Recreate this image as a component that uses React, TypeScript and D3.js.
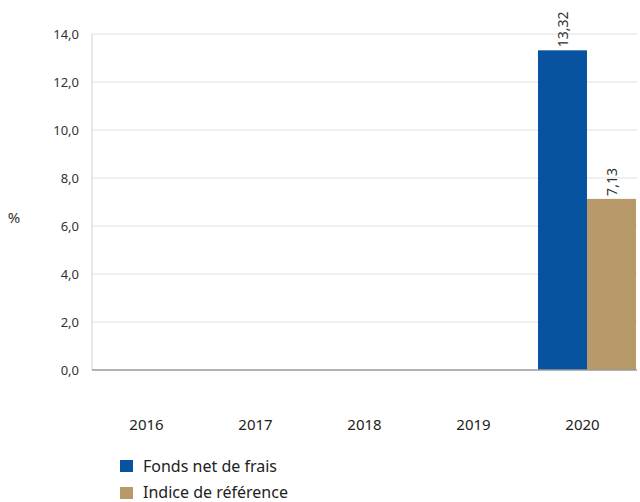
import React from "react";
import * as d3 from "d3";

const categories = ["2016", "2017", "2018", "2019", "2020"];
const fondsValues: (number | null)[] = [null, null, null, null, 13.32];
const indiceValues: (number | null)[] = [null, null, null, null, 7.13];
const seriesNames = ["Fonds net de frais", "Indice de référence"];
const seriesColors = ["#07539f", "#b8996a"];
const yTicks = [0, 2, 4, 6, 8, 10, 12, 14];

const fmt = (v: number, d: number) => v.toFixed(d).replace(".", ",");

export default function App() {
  const W = 640, H = 502;
  const left = 92, right = 637, top = 34, bottom = 370;
  const font = "'Noto Sans', sans-serif";
  const x = d3.scaleBand<string>().domain(categories).range([left, right]).paddingInner(0).paddingOuter(0);
  const y = d3.scaleLinear().domain([0, 14]).range([bottom, top]);
  const inner = d3.scaleBand<number>().domain([0, 1]).range([10, x.bandwidth() - 1]).padding(0);
  const series = [fondsValues, indiceValues];

  return (
    <svg width={W} height={H} style={{ position: "absolute", left: 0, top: 0 }} fontFamily={font}>
      {yTicks.map((t) => (
        <g key={t}>
          {t > 0 && <line x1={left} x2={right} y1={y(t)} y2={y(t)} stroke="#e0e0e0" strokeWidth={1} />}
          <text x={79} y={y(t) + 4.5} textAnchor="end" fontSize={13} fill="#333">{fmt(t, 1)}</text>
        </g>
      ))}
      <line x1={left} x2={left} y1={top} y2={bottom} stroke="#cfcfcf" strokeWidth={1} />
      {series.map((vals, si) =>
        vals.map((v, ci) => {
          if (v == null) return null;
          const bx = (x(categories[ci]) as number) + (inner(si) as number);
          const bw = inner.bandwidth();
          const cx = bx + bw / 2;
          const ty = y(v) - 3;
          return (
            <g key={`${si}-${ci}`}>
              <rect x={bx} y={y(v)} width={bw} height={bottom - y(v)} fill={seriesColors[si]} />
              <text transform={`translate(${cx + 5},${ty}) rotate(-90)`} fontSize={14} fill="#333">{fmt(v, 2)}</text>
            </g>
          );
        })
      )}
      <line x1={left} x2={right} y1={bottom} y2={bottom} stroke="#9a9a9a" strokeWidth={1.5} />
      {categories.map((c) => (
        <text key={c} x={(x(c) as number) + x.bandwidth() / 2} y={430} textAnchor="middle" fontSize={15} fill="#222">{c}</text>
      ))}
      <text x={14} y={223} textAnchor="middle" fontSize={15} fill="#333">%</text>
      {seriesNames.map((n, i) => (
        <g key={n}>
          <rect x={120} y={460 + i * 27} width={13} height={12} fill={seriesColors[i]} />
          <text x={143} y={472 + i * 26} fontSize={16} fill="#222">{n}</text>
        </g>
      ))}
    </svg>
  );
}
